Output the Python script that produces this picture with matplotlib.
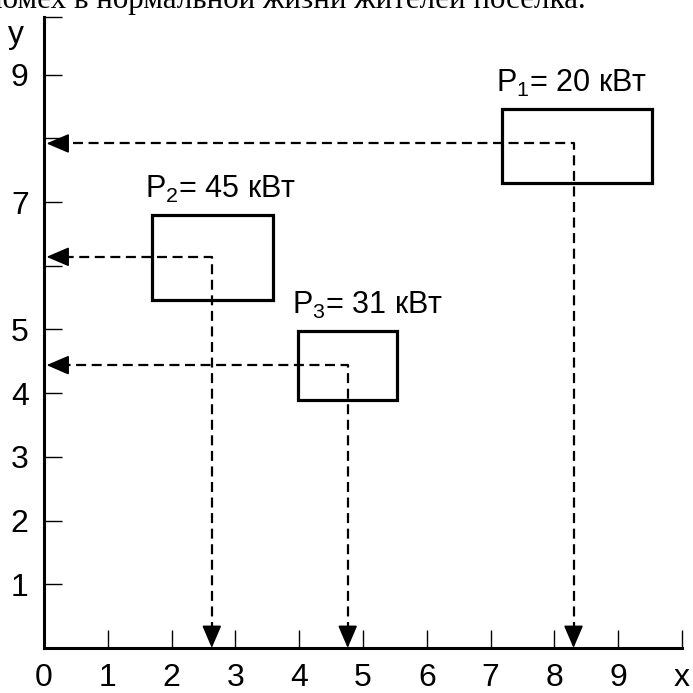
import matplotlib
matplotlib.use('Agg')
import matplotlib.pyplot as plt
from matplotlib.patches import Rectangle, FancyArrowPatch

plt.rcParams['font.family'] = ['Liberation Sans', 'DejaVu Sans']
plt.rcParams['mathtext.fontset'] = 'custom'
plt.rcParams['mathtext.rm'] = 'Liberation Sans'
plt.rcParams['mathtext.default'] = 'rm'

# data
box_x0 = [7.18, 1.69, 3.98]
box_x1 = [9.53, 3.59, 5.53]
box_y0 = [7.30, 5.46, 3.89]
box_y1 = [8.46, 6.80, 4.98]
cent_x = [8.30, 2.63, 4.76]
cent_y = [7.92, 6.14, 4.44]
labels = ['P$_1$= 20 кВт', 'P$_2$= 45 кВт', 'P$_3$= 31 кВт']
xticks = [0, 1, 2, 3, 4, 5, 6, 7, 8, 9, 10]
xlabels = ['0', '1', '2', '3', '4', '5', '6', '7', '8', '9', 'x']
yticks = [1, 2, 3, 4, 5, 6, 7, 8, 9, 9.9]
ylabels = ['1', '2', '3', '4', '5', '', '7', '', '9', '']

fig = plt.figure(figsize=(6.93, 6.93), dpi=100)
ax = fig.add_axes([0.0635, 0.065, 0.9206, 0.910])
ax.set_xlim(0, 10)
ax.set_ylim(0, 9.9)
for s in ['top', 'right']:
    ax.spines[s].set_visible(False)
for s in ['left', 'bottom']:
    ax.spines[s].set_linewidth(2.2)

ax.set_xticks(xticks)
ax.set_xticklabels(xlabels)
ax.set_yticks(yticks)
ax.set_yticklabels(ylabels)
ax.tick_params(direction='in', length=13, width=1.0, labelsize=23, pad=11)
ax.patch.set_visible(False)

ax.text(-0.44, 9.62, 'y', fontsize=23, ha='center', va='center', clip_on=False)

for i in range(len(labels)):
    ax.add_patch(Rectangle((box_x0[i], box_y0[i]), box_x1[i] - box_x0[i],
                           box_y1[i] - box_y0[i], fill=False, lw=2.3, ec='k'))
    ax.text(box_x0[i] - 0.1, box_y1[i] + 0.27, labels[i], fontsize=22,
            ha='left', va='baseline')
    ax.plot([cent_x[i], cent_x[i], 0.25], [0.25, cent_y[i], cent_y[i]],
            color='k', lw=1.6, dashes=(4.5, 2.5))
    for start, tip in [((0.3, cent_y[i]), (0.04, cent_y[i])),
                       ((cent_x[i], 0.3), (cent_x[i], 0.0))]:
        ax.add_patch(FancyArrowPatch(start, tip,
                                     arrowstyle='-|>,head_length=14,head_width=6',
                                     mutation_scale=1, color='k', lw=1.2,
                                     shrinkA=0, shrinkB=0, clip_on=False))

fig.text(-0.02, 0.9885, 'помех в нормальной жизни жителей поселка.',
         family='Liberation Serif', fontsize=22.3, ha='left', va='baseline')

fig.savefig('out.png', dpi=100)
